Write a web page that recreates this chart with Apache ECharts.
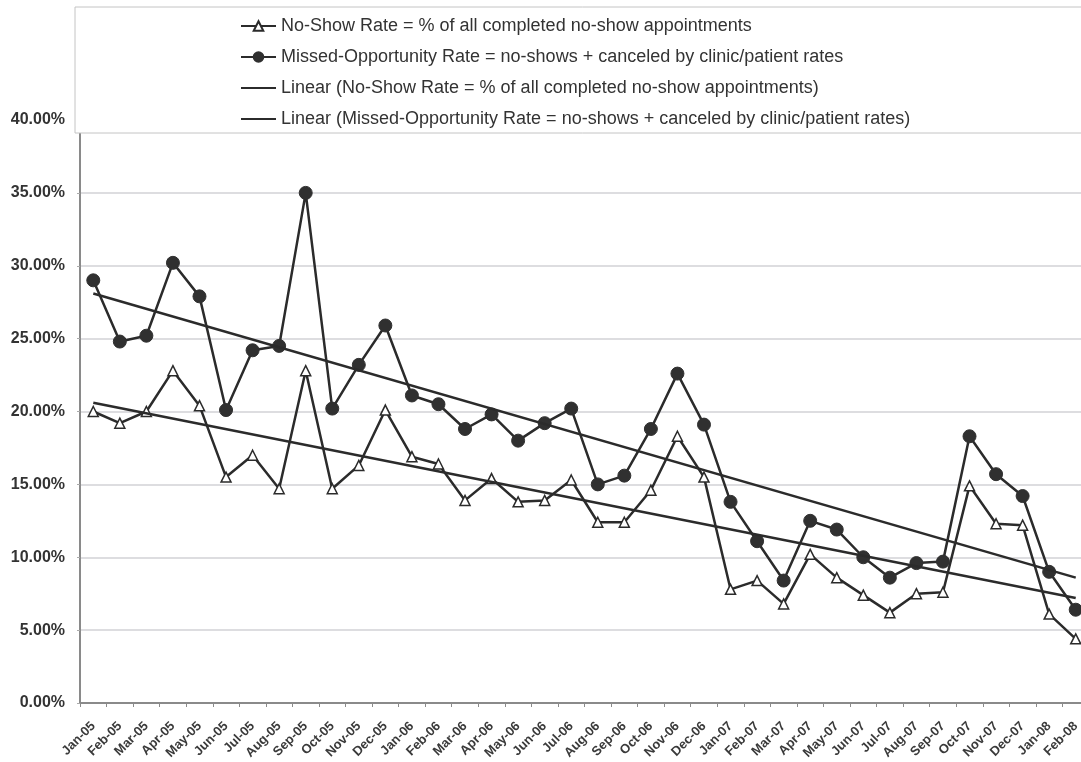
<!DOCTYPE html>
<html>
<head>
<meta charset="utf-8">
<title>No-Show and Missed-Opportunity Rates</title>
<script src="https://cdn.jsdelivr.net/npm/echarts@6/dist/echarts.min.js"></script>
<style>
  html, body { margin: 0; padding: 0; background: #ffffff; overflow: hidden; }
  /* plot runs slightly past the right edge of the page */
  #chart { width: 1089px; height: 762px; }
</style>
</head>
<body>
<div id="chart"></div>
<script>
// Monthly clinic appointment rates, Jan 2005 – Feb 2008 (percent)
const months = [
  'Jan-05','Feb-05','Mar-05','Apr-05','May-05','Jun-05','Jul-05','Aug-05','Sep-05','Oct-05','Nov-05','Dec-05',
  'Jan-06','Feb-06','Mar-06','Apr-06','May-06','Jun-06','Jul-06','Aug-06','Sep-06','Oct-06','Nov-06','Dec-06',
  'Jan-07','Feb-07','Mar-07','Apr-07','May-07','Jun-07','Jul-07','Aug-07','Sep-07','Oct-07','Nov-07','Dec-07',
  'Jan-08','Feb-08'
];

const noShowRate = [
  20.0, 19.2, 20.0, 22.8, 20.4, 15.5, 17.0, 14.7, 22.8, 14.7, 16.3, 20.1,
  16.9, 16.4, 13.9, 15.4, 13.8, 13.9, 15.3, 12.4, 12.4, 14.6, 18.3, 15.5,
  7.8, 8.4, 6.8, 10.2, 8.6, 7.4, 6.2, 7.5, 7.6, 14.9, 12.3, 12.2,
  6.1, 4.4
];

const missedOpportunityRate = [
  29.0, 24.8, 25.2, 30.2, 27.9, 20.1, 24.2, 24.5, 35.0, 20.2, 23.2, 25.9,
  21.1, 20.5, 18.8, 19.8, 18.0, 19.2, 20.2, 15.0, 15.6, 18.8, 22.6, 19.1,
  13.8, 11.1, 8.4, 12.5, 11.9, 10.0, 8.6, 9.6, 9.7, 18.3, 15.7, 14.2,
  9.0, 6.4
];

// Linear trend end values (first and last month)
const noShowTrendEnds = [20.6, 7.2];
const missedTrendEnds = [28.1, 8.6];

const yTicks = [0, 5, 10, 15, 20, 25, 30, 35, 40];

const seriesNames = [
  'No-Show Rate = % of all completed no-show appointments',
  'Missed-Opportunity Rate = no-shows + canceled by clinic/patient rates',
  'Linear (No-Show Rate = % of all completed no-show appointments)',
  'Linear (Missed-Opportunity Rate = no-shows + canceled by clinic/patient rates)'
];

const ink = '#2b2b2b';
const first = months[0];
const last = months[months.length - 1];

const chart = echarts.init(document.getElementById('chart'), null, { renderer: 'canvas' });

chart.setOption({
  backgroundColor: '#ffffff',
  animation: false,
  textStyle: { fontFamily: '"Liberation Sans", Arial, sans-serif' },
  legend: {
    orient: 'vertical',
    left: 75,
    top: 7,
    padding: [10, 600, 5, 165],
    itemGap: 13,
    itemWidth: 35,
    itemHeight: 12,
    backgroundColor: '#ffffff',
    borderColor: '#c4c4c4',
    borderWidth: 1,
    selectedMode: false,
    textStyle: {
      fontFamily: '"Liberation Sans", Arial, sans-serif',
      fontSize: 18,
      lineHeight: 16,
      color: '#333333'
    },
    data: [
      { name: seriesNames[0] },
      { name: seriesNames[1] },
      { name: seriesNames[2], itemStyle: { opacity: 0 } },
      { name: seriesNames[3], itemStyle: { opacity: 0 } }
    ]
  },
  grid: {
    left: 80,
    top: 120,
    right: 0,
    height: 583,
    containLabel: false
  },
  xAxis: {
    type: 'category',
    data: months,
    boundaryGap: true,
    axisLine: { show: true, lineStyle: { color: '#8a8a8a', width: 2 } },
    axisTick: { show: true, length: 4, lineStyle: { color: '#8a8a8a', width: 1 } },
    axisLabel: {
      interval: 0,
      rotate: 45,
      margin: 21,
      fontSize: 13,
      fontWeight: 'bold',
      color: '#3a3a3a',
      fontFamily: '"Liberation Sans", Arial, sans-serif'
    },
    splitLine: { show: false }
  },
  yAxis: {
    type: 'value',
    min: yTicks[0],
    max: yTicks[yTicks.length - 1],
    interval: 5,
    axisLine: { show: true, lineStyle: { color: '#8a8a8a', width: 2 } },
    axisTick: { show: true, length: 3, lineStyle: { color: '#aaaaaa' } },
    axisLabel: {
      margin: 15,
      fontSize: 16,
      fontWeight: 'bold',
      color: '#333333',
      fontFamily: '"Liberation Sans", Arial, sans-serif',
      formatter: function (v) { return v.toFixed(2) + '%'; }
    },
    splitLine: { show: true, lineStyle: { color: '#d2d2d6', width: 1.5 } }
  },
  series: [
    {
      name: seriesNames[0],
      type: 'line',
      data: noShowRate,
      symbol: 'triangle',
      symbolSize: 10,
      showAllSymbol: true,
      lineStyle: { color: ink, width: 2.5 },
      itemStyle: { color: '#ffffff', borderColor: ink, borderWidth: 1.5 },
      z: 3
    },
    {
      name: seriesNames[1],
      type: 'line',
      data: missedOpportunityRate,
      symbol: 'circle',
      symbolSize: 13,
      showAllSymbol: true,
      lineStyle: { color: ink, width: 2.5 },
      itemStyle: { color: '#303030', borderColor: '#303030', borderWidth: 1 },
      z: 3
    },
    {
      name: seriesNames[2],
      type: 'line',
      data: [[first, noShowTrendEnds[0]], [last, noShowTrendEnds[1]]],
      symbol: 'none',
      lineStyle: { color: ink, width: 2.5 },
      itemStyle: { color: ink },
      z: 4
    },
    {
      name: seriesNames[3],
      type: 'line',
      data: [[first, missedTrendEnds[0]], [last, missedTrendEnds[1]]],
      symbol: 'none',
      lineStyle: { color: ink, width: 2.5 },
      itemStyle: { color: ink },
      z: 4
    }
  ]
});
</script>
</body>
</html>
